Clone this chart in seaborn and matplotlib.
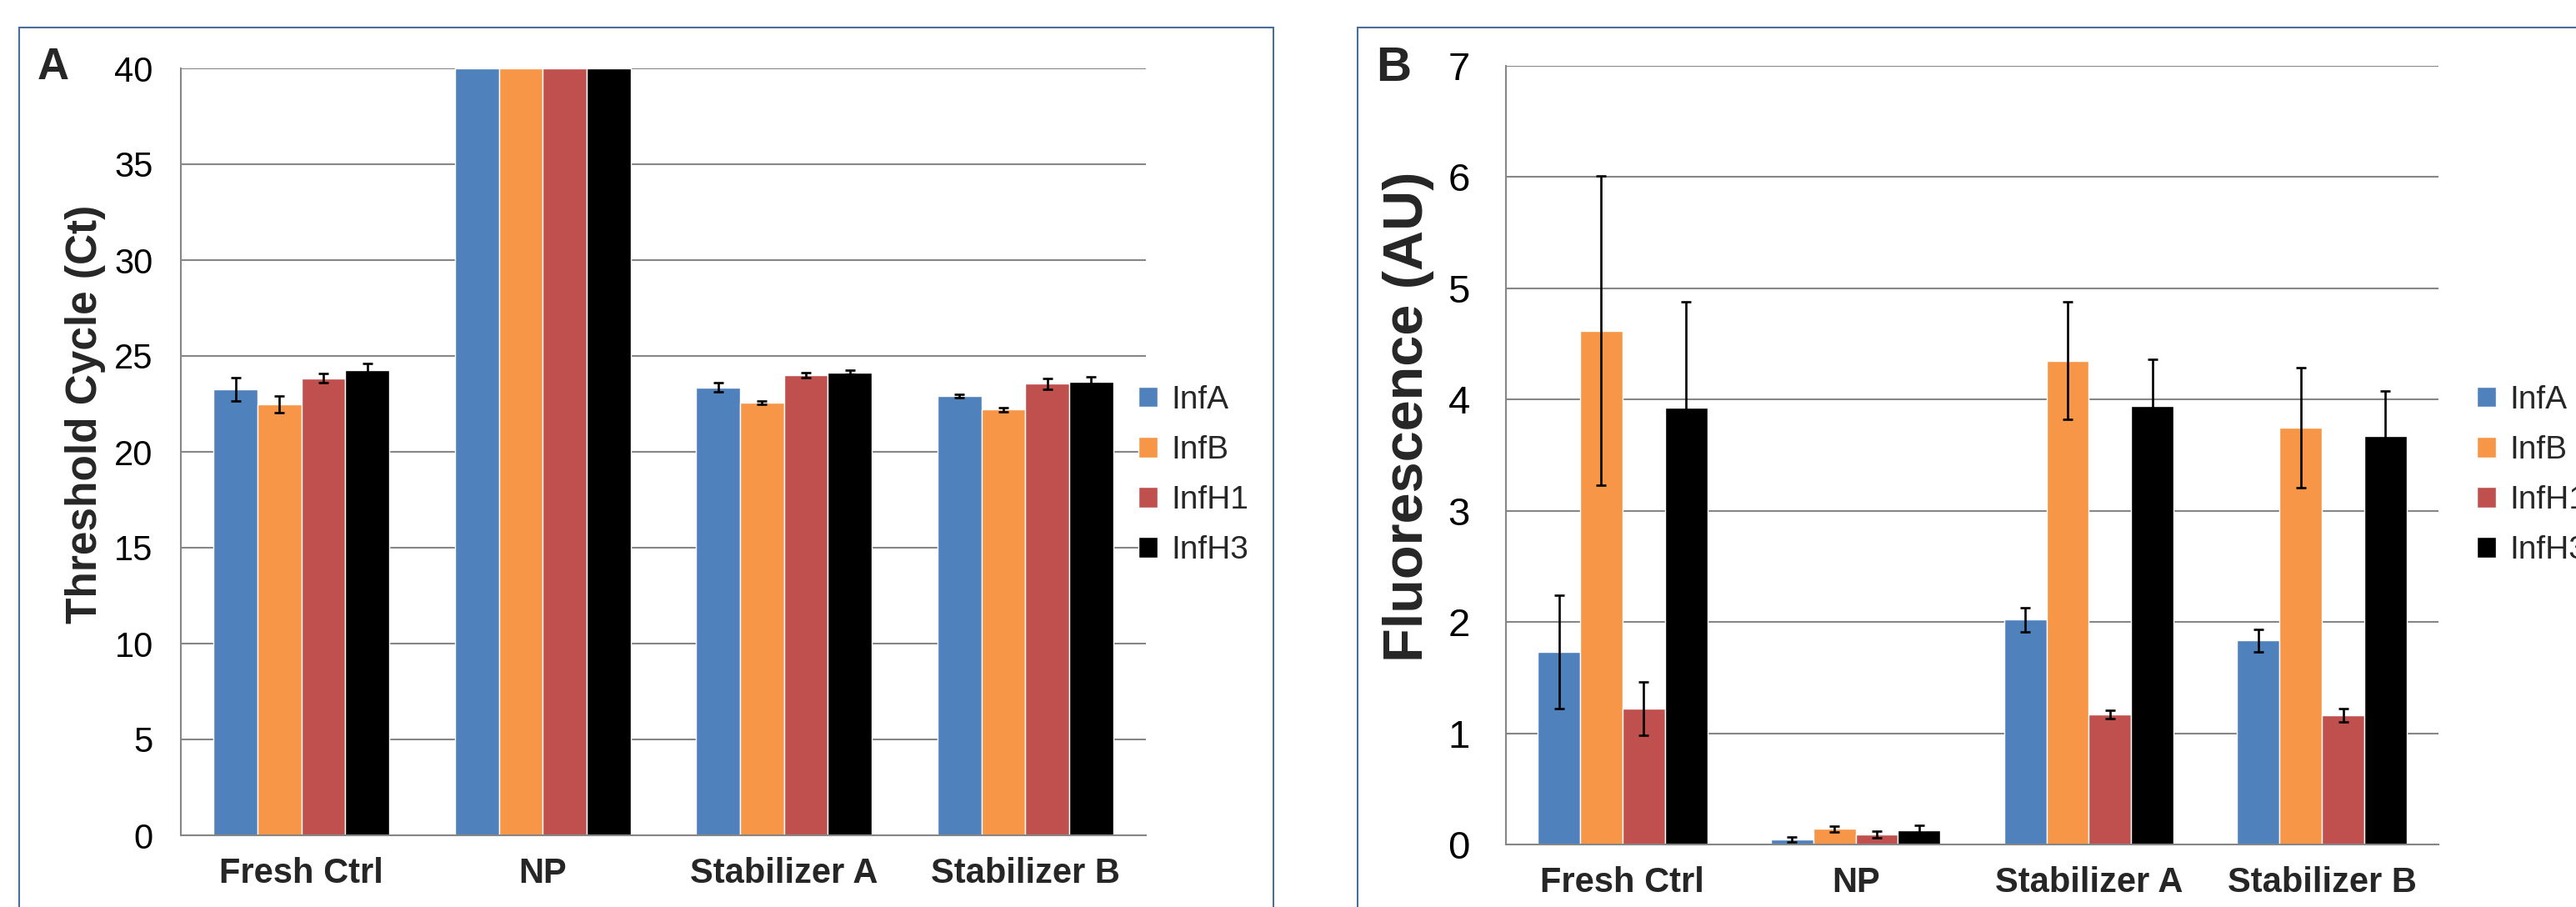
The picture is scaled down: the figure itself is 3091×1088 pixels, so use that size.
import numpy as np
import pandas as pd
import seaborn as sns
import matplotlib.pyplot as plt
from matplotlib.patches import Rectangle
from matplotlib.ticker import MultipleLocator, FixedLocator

categories = ["Fresh Ctrl", "NP", "Stabilizer A", "Stabilizer B"]
targets = ["InfA", "InfB", "InfH1", "InfH3"]
colors = ["#4F81BD", "#F79646", "#C0504D", "#000000"]

# A - threshold cycle (Ct), one list per target, in category order
ct_infa = [23.27, 40, 23.35, 22.9]
ct_infb = [22.49, 40, 22.57, 22.2]
ct_infh1 = [23.84, 40, 24.0, 23.55]
ct_infh3 = [24.26, 40, 24.15, 23.67]
ct_err_infa = [0.61, 0, 0.24, 0.09]
ct_err_infb = [0.43, 0, 0.09, 0.12]
ct_err_infh1 = [0.23, 0, 0.15, 0.27]
ct_err_infh3 = [0.36, 0, 0.12, 0.24]

# B - fluorescence (AU)
fl_infa = [1.73, 0.045, 2.02, 1.835]
fl_infb = [4.62, 0.14, 4.35, 3.75]
fl_infh1 = [1.22, 0.092, 1.17, 1.16]
fl_infh3 = [3.93, 0.13, 3.94, 3.67]
fl_err_infa = [0.51, 0.02, 0.11, 0.10]
fl_err_infb = [1.39, 0.025, 0.53, 0.54]
fl_err_infh1 = [0.24, 0.03, 0.04, 0.06]
fl_err_infh3 = [0.95, 0.04, 0.42, 0.41]

sns.set_style("white")
plt.rcParams["font.family"] = ["Liberation Sans", "DejaVu Sans"]

W, H = 3091, 1088
GRID = "#868686"
FRAME = "#4a6d9c"


def make_long(vals, errs):
    rows = []
    for t, v, e in zip(targets, vals, errs):
        for c, vv, ee in zip(categories, v, e):
            rows.append({"Sample": c, "Target": t, "Value": vv, "Err": ee})
    return pd.DataFrame(rows)


def px_axes(fig, left, top, right, bottom):
    return fig.add_axes([left / W, (H - bottom) / H, (right - left) / W, (bottom - top) / H])


def draw_panel(fig, ax, df, ymax, ystep, ylabel, tick_fs, ylab_fs, ylab_xy, tick_pad, leg_x):
    sns.barplot(data=df, x="Sample", y="Value", hue="Target", order=categories,
                hue_order=targets, palette=colors, width=4 / 5.5, errorbar=None,
                saturation=1, legend=False, ax=ax, zorder=2)
    for cont, t in zip(ax.containers, targets):
        sub = df[df["Target"] == t].set_index("Sample").loc[categories]
        xs = np.array([b.get_x() + b.get_width() / 2 for b in cont])
        hs = np.array([b.get_height() for b in cont])
        err = sub["Err"].to_numpy()
        m = err > 0
        ax.errorbar(xs[m], hs[m], yerr=err[m], fmt="none", ecolor="black",
                    elinewidth=1.9, capsize=4.3, capthick=1.9, zorder=3)

    ax.set_ylim(0, ymax)
    ax.set_xlim(-0.5, 3.5)
    ax.yaxis.set_major_locator(MultipleLocator(ystep))
    ax.xaxis.set_minor_locator(FixedLocator([-0.5, 0.5, 1.5, 2.5, 3.5]))
    ax.yaxis.grid(True, color=GRID, lw=1.5)
    ax.set_axisbelow(True)
    for s in ["top", "right"]:
        ax.spines[s].set_visible(False)
    for s in ["left", "bottom"]:
        ax.spines[s].set_color(GRID)
        ax.spines[s].set_linewidth(1.5)
    ax.tick_params(axis="y", direction="out", length=9, width=1.5, color=GRID,
                   pad=tick_pad, labelsize=tick_fs, labelcolor="black")
    ax.tick_params(axis="x", which="major", length=0, pad=19, labelsize=30)
    ax.tick_params(axis="x", which="minor", direction="out", length=8, width=1.5, color=GRID)
    for lab in ax.get_xticklabels():
        lab.set_fontweight("bold")
    ax.set_xlabel("")
    ax.set_ylabel("")
    ax.text(ylab_xy[0], ylab_xy[1], ylabel, transform=ax.transAxes, rotation=90,
            ha="center", va="center", fontsize=ylab_fs, fontweight="bold")

    # legend sits at the right edge like the original, panel B's gets clipped by the figure
    ax.legend(ax.containers, targets, loc="center left",
              bbox_to_anchor=(leg_x / W, (H - 570) / H), bbox_transform=fig.transFigure,
              frameon=False, fontsize=28, borderpad=0, borderaxespad=0,
              handlelength=0.6, handleheight=0.6, handletextpad=0.4, labelspacing=0.62)


fig = plt.figure(figsize=(W / 100, H / 100), dpi=100)

fig.add_artist(Rectangle((23 / W, -0.1), (1528 - 23) / W, 0.1 + (H - 33) / H,
                         transform=fig.transFigure, fill=False, ec=FRAME, lw=1.5))
fig.add_artist(Rectangle((1629 / W, -0.1), 0.6, 0.1 + (H - 33) / H,
                         transform=fig.transFigure, fill=False, ec=FRAME, lw=1.5))

df_a = make_long([ct_infa, ct_infb, ct_infh1, ct_infh3],
                 [ct_err_infa, ct_err_infb, ct_err_infh1, ct_err_infh3])
ax_a = px_axes(fig, 217, 82, 1375, 1002)
draw_panel(fig, ax_a, df_a, 40, 5, "Threshold Cycle (Ct)", 30, 37,
           ((103 - 217) / 1158, (1002 - 497) / 920), 15, 1366)

df_b = make_long([fl_infa, fl_infb, fl_infh1, fl_infh3],
                 [fl_err_infa, fl_err_infb, fl_err_infh1, fl_err_infh3])
ax_b = px_axes(fig, 1807, 79, 2926, 1013)
draw_panel(fig, ax_b, df_b, 7, 1, "Fluorescence (AU)", 34, 48,
           ((1690 - 1807) / 1119, (1013 - 500) / 934), 22, 2972)

fig.text(45 / W, (H - 95) / H, "A", fontsize=38, fontweight="bold", ha="left", va="baseline")
fig.text(1651 / W, (H - 97) / H, "B", fontsize=42, fontweight="bold", ha="left", va="baseline")

fig.savefig("out.png", dpi=100)
